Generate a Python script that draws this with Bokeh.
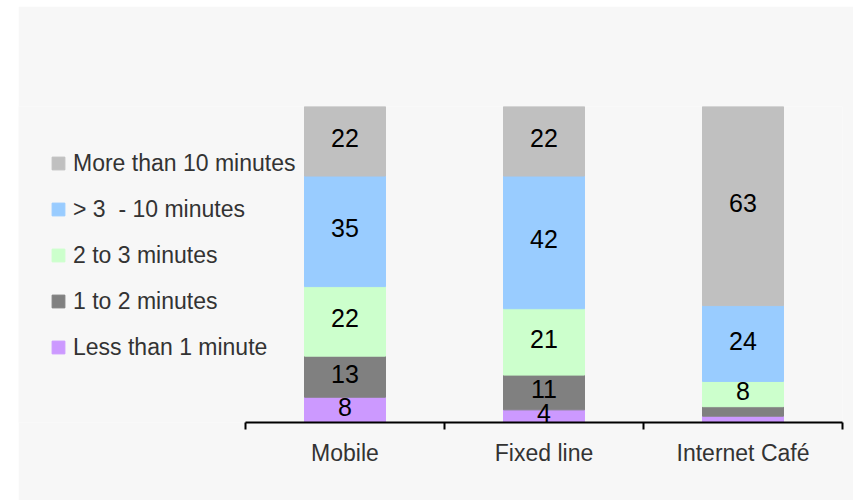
from bokeh.plotting import figure
from bokeh.models import ColumnDataSource, Range1d, FixedTicker, Legend, LegendItem
from bokeh.core.properties import value
from bokeh.embed import file_html
from bokeh.resources import INLINE

# Survey data: share of respondents (%) by session length and access point
categories = ["Mobile", "Fixed line", "Internet Café"]
series_names = ["Less than 1 minute", "1 to 2 minutes", "2 to 3 minutes",
                "> 3  - 10 minutes", "More than 10 minutes"]
less_than_1 = [8, 4, 2]
one_to_2 = [13, 11, 3]
two_to_3 = [22, 21, 8]
three_to_10 = [35, 42, 24]
more_than_10 = [22, 22, 63]
colors = ["#cc99ff", "#808080", "#ccffcc", "#99ccff", "#c0c0c0"]

FONT = "Liberation Sans"
keys = ["s0", "s1", "s2", "s3", "s4"]
series = [less_than_1, one_to_2, two_to_3, three_to_10, more_than_10]
xs = [i + 0.5 for i in range(len(categories))]

data = {"x": xs}
for k, vals in zip(keys, series):
    data[k] = vals
source = ColumnDataSource(data)

# layout in pixels: the plotting frame spans the whole panel width so the
# legend on the left is not clipped; the category axis starts 227 px in.
PLOT_W, PLOT_H = 835, 494
RIGHT_PAD, TOP_PAD, BOTTOM_PAD = 11, 100, 78
AXIS_START_PX = 227
frame_w = PLOT_W - RIGHT_PAD
cat_px = (frame_w - AXIS_START_PX) / len(categories)
x_start = -AXIS_START_PX / cat_px

p = figure(width=PLOT_W, height=PLOT_H, margin=(6, 0, 0, 18),
           x_range=Range1d(x_start, len(categories)), y_range=Range1d(0, 100),
           output_backend="svg", toolbar_location=None,
           min_border_left=0, min_border_right=RIGHT_PAD,
           min_border_top=TOP_PAD, min_border_bottom=BOTTOM_PAD)
p.border_fill_color = "#f7f7f7"
p.background_fill_color = "#f7f7f7"
p.outline_line_color = None
p.xgrid.visible = False
p.ygrid.visible = False
p.yaxis.visible = False

renderers = p.vbar_stack(keys, x="x", width=0.407, color=colors, source=source)

# value labels centred in each segment (small segments are left unlabelled)
lx, ly, lt = [], [], []
for i, x in enumerate(xs):
    bottom = 0
    for vals in series:
        v = vals[i]
        if v >= 4:
            lx.append(x)
            ly.append(bottom + v / 2)
            lt.append(str(v))
        bottom += v
p.text(x=lx, y=ly, text=lt, text_font=value(FONT), text_font_size="25px",
       text_align="center", text_baseline="middle", text_color="#000000",
       y_offset=-3)

# category axis: labels at bar centres, tick marks at category boundaries
ax = p.xaxis[0]
ax.bounds = (0, len(categories))
ax.ticker = FixedTicker(ticks=xs, minor_ticks=list(range(len(categories) + 1)))
ax.major_label_overrides = {x: c for x, c in zip(xs, categories)}
ax.major_tick_line_color = None
ax.major_tick_in = 0
ax.major_tick_out = 0
ax.minor_tick_in = 0
ax.minor_tick_out = 7
ax.minor_tick_line_color = "#000000"
ax.minor_tick_line_width = 2
ax.axis_line_color = "#000000"
ax.axis_line_width = 2
ax.major_label_standoff = 10
ax.major_label_text_font = FONT
ax.major_label_text_font_size = "23px"
ax.major_label_text_color = "#333333"

items = [LegendItem(label=name, renderers=[r])
         for name, r in zip(series_names, renderers)][::-1]
legend = Legend(items=items, location=(32, 61), orientation="vertical",
                glyph_width=16, glyph_height=16, label_height=28,
                label_standoff=7, spacing=18, padding=0, margin=0,
                border_line_color=None, background_fill_alpha=0,
                label_text_font=FONT, label_text_font_size="23px",
                label_text_color="#333333")
p.add_layout(legend, "center")

open("out.html", "w").write(file_html(p, INLINE))
